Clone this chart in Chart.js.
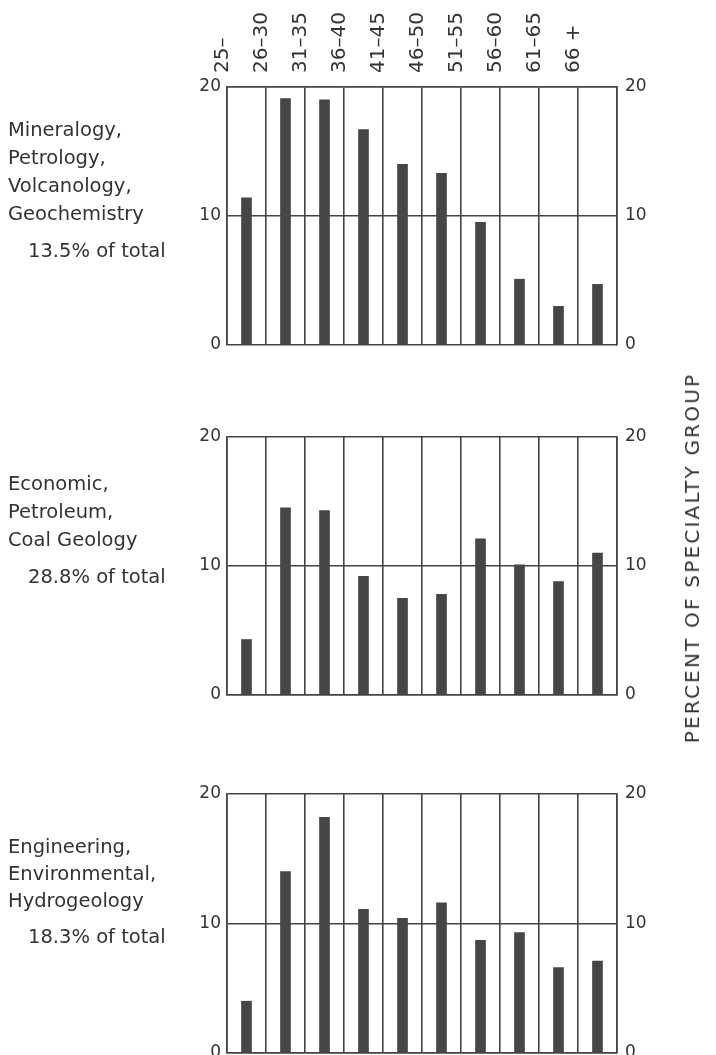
<!DOCTYPE html>
<html>
<head>
<meta charset="utf-8">
<script src="https://cdn.jsdelivr.net/npm/chart.js@4.4.0/dist/chart.umd.min.js"></script>
<style>
  html, body { margin: 0; padding: 0; background: #fff; overflow: hidden; }
  body { width: 716px; height: 1055px; position: relative; font-family: "DejaVu Sans", sans-serif; color: #333; }
  .wrap { position: absolute; left: 0; width: 716px; }
  .label { position: absolute; left: 8px; font-size: 19.5px; line-height: 28px; white-space: nowrap; }
  .label .pct { padding-left: 20px; margin-top: 9px; }
  #ytitle { position: absolute; left: 692px; top: 558px; font-size: 20px; letter-spacing: 2.2px; white-space: nowrap;
            transform: translate(-50%, -50%) rotate(-90deg); }
</style>
</head>
<body>
<div class="wrap" style="top:0;height:380px"><canvas id="c1"></canvas></div>
<div class="wrap" style="top:380px;height:360px"><canvas id="c2"></canvas></div>
<div class="wrap" style="top:740px;height:340px"><canvas id="c3"></canvas></div>

<div class="label" style="top:116px">Mineralogy,<br>Petrology,<br>Volcanology,<br>Geochemistry<div class="pct">13.5% of total</div></div>
<div class="label" style="top:470px">Economic,<br>Petroleum,<br>Coal Geology<div class="pct">28.8% of total</div></div>
<div class="label" style="top:833px;line-height:27px">Engineering,<br>Environmental,<br>Hydrogeology<div class="pct">18.3% of total</div></div>
<div id="ytitle">PERCENT OF SPECIALTY GROUP</div>

<script>
// age groups across the top
const ageGroups = ['25–', '26–30', '31–35', '36–40', '41–45', '46–50', '51–55', '56–60', '61–65', '66 +'];

// percent of each specialty group
const mineralogyPct = [11.4, 19.1, 19.0, 16.7, 14.0, 13.3, 9.5, 5.1, 3.0, 4.7];
const economicPct = [4.3, 14.5, 14.3, 9.2, 7.5, 7.8, 12.1, 10.1, 8.8, 11.0];
const engineeringPct = [4.0, 14.0, 18.2, 11.1, 10.4, 11.6, 8.7, 9.3, 6.6, 7.1];

const yTicks = [0, 10, 20];

const lineColor = '#444';
const barColor = '#464646';
const textColor = '#333';
const tickFont = { family: 'DejaVu Sans', size: 17 };

function yAxis(pos, width, showGrid) {
  return {
    position: pos,
    min: yTicks[0],
    max: yTicks[yTicks.length - 1],
    ticks: { stepSize: yTicks[1] - yTicks[0], padding: pos === 'left' ? 6 : 8, color: textColor, font: tickFont },
    grid: { display: showGrid, color: lineColor, lineWidth: 1.6, drawTicks: false },
    border: { color: lineColor, width: 1.6 },
    afterFit: s => { s.width = width; }
  };
}

function makePanel(id, values, showLabels, padTop, padBottom) {
  return new Chart(document.getElementById(id), {
    type: 'bar',
    data: {
      labels: ageGroups,
      datasets: [{ data: values, backgroundColor: barColor, barThickness: 10, borderWidth: 0 }]
    },
    options: {
      responsive: true,
      maintainAspectRatio: false,
      animation: false,
      layout: { padding: { top: padTop, bottom: padBottom, left: 0, right: 0 } },
      plugins: { legend: { display: false }, tooltip: { enabled: false } },
      scales: {
        x: {
          position: showLabels ? 'top' : 'bottom',
          grid: { color: lineColor, lineWidth: 1.6, drawTicks: false, offset: true },
          border: { color: lineColor, width: 1.6 },
          ticks: {
            display: showLabels, minRotation: 90, maxRotation: 90, padding: 14,
            color: textColor, font: { family: 'DejaVu Sans', size: 20 }
          },
          afterFit: s => { s.height = showLabels ? 87 : 0; }
        },
        y: yAxis('left', 227, true),
        y2: yAxis('right', 99, false)
      }
    }
  });
}

makePanel('c1', mineralogyPct, true, 0, 35);
makePanel('c2', economicPct, false, 57, 45);
makePanel('c3', engineeringPct, false, 54, 27);
</script>
</body>
</html>
